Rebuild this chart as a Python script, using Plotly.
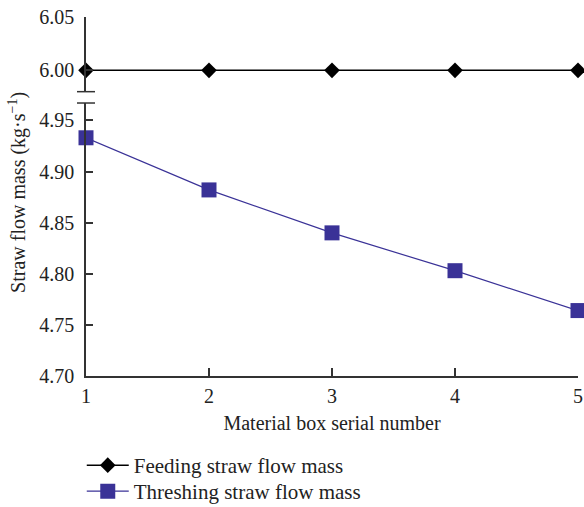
import plotly.graph_objects as go

box_numbers = [1, 2, 3, 4, 5]
feeding_mass = [6.00, 6.00, 6.00, 6.00, 6.00]
threshing_mass = [4.933, 4.882, 4.840, 4.803, 4.764]

upper_ticks = [6.00, 6.05]
lower_ticks = [4.70, 4.75, 4.80, 4.85, 4.90, 4.95]

FONT = "Liberation Serif"
AXIS_COLOR = "#333333"
TEXT_COLOR = "#222222"
BLUE = "#3a3297"
FS = 20

fig = go.Figure()

fig.add_trace(go.Scatter(
    x=box_numbers, y=feeding_mass, name="Feeding straw flow mass",
    mode="lines+markers", xaxis="x", yaxis="y2", cliponaxis=False,
    line=dict(color="black", width=1.5),
    marker=dict(symbol="diamond", size=12, color="black"),
    legend="legend",
))
fig.add_trace(go.Scatter(
    x=box_numbers, y=threshing_mass, name="Threshing straw flow mass",
    mode="lines+markers", xaxis="x", yaxis="y", cliponaxis=False,
    line=dict(color=BLUE, width=1.2),
    marker=dict(symbol="square", size=15, color=BLUE),
    legend="legend2",
))

lower_top = 0.7604
upper_bottom = 0.792

axis_common = dict(
    showline=True, linecolor=AXIS_COLOR, linewidth=1.5,
    ticks="inside", tickcolor=AXIS_COLOR, tickwidth=1.5,
    showgrid=False, zeroline=False,
    tickfont=dict(family=FONT, size=FS, color=TEXT_COLOR),
)

legend_common = dict(
    x=0.14, xref="container", yref="container",
    xanchor="left", yanchor="top", itemwidth=42,
    font=dict(family=FONT, size=21, color=TEXT_COLOR),
    bgcolor="rgba(0,0,0,0)",
)

fig.update_layout(
    width=584, height=507,
    margin=dict(l=86, r=6, t=17, b=131, autoexpand=False),
    paper_bgcolor="white", plot_bgcolor="white",
    font=dict(family=FONT, size=FS, color=TEXT_COLOR),
    xaxis=dict(
        range=[1, 5], tickvals=box_numbers, anchor="y", ticklen=8,
        ticklabelstandoff=1,
        title=dict(text="Material box serial number", standoff=10,
                   font=dict(family=FONT, size=FS)),
        **axis_common,
    ),
    yaxis=dict(
        domain=[0, lower_top], range=[4.70, 4.967], tickvals=lower_ticks,
        tickformat=".2f", anchor="x", ticklen=7, ticklabelstandoff=6,
        **axis_common,
    ),
    yaxis2=dict(
        domain=[upper_bottom, 1], range=[5.98, 6.05], tickvals=upper_ticks,
        tickformat=".2f", anchor="x", ticklen=7, ticklabelstandoff=6,
        **axis_common,
    ),
    legend=dict(y=0.1223, **legend_common),
    legend2=dict(y=0.0710, **legend_common),
    showlegend=True,
)

# break marks where the value axis is interrupted
for yb in (lower_top, upper_bottom):
    fig.add_shape(type="line", xref="x domain", yref="paper",
                  x0=-9 / 492, x1=9 / 492, y0=yb, y1=yb,
                  line=dict(color=AXIS_COLOR, width=1.5))

fig.add_annotation(
    text="Straw flow mass (kg·s<sup>−1</sup>)",
    xref="paper", yref="paper", x=-68 / 492, y=0.51,
    xanchor="center", yanchor="middle", textangle=-90, showarrow=False,
    font=dict(family=FONT, size=FS, color=TEXT_COLOR),
)

fig.write_html("out.html")
